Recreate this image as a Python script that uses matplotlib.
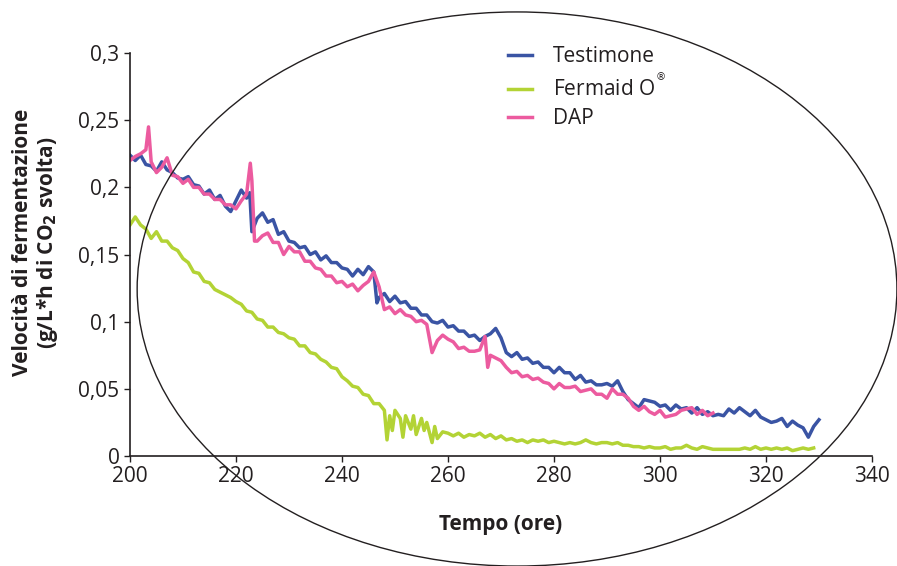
import matplotlib
matplotlib.use('Agg')
import matplotlib.pyplot as plt
from matplotlib.patches import Ellipse

plt.rcParams['font.family'] = ['Open Sans', 'DejaVu Sans']

# --- data ---
t_test = [200, 201, 202, 203, 204, 205, 206, 207, 208, 209, 210, 211, 212, 213, 214, 215, 216, 217, 218, 219,
          220, 221, 222, 222.6, 223, 224, 225, 226, 227, 228, 229, 230, 231, 232, 233, 234, 235, 236, 237, 238,
          239, 240, 241, 242, 243, 244, 245, 246, 246.6, 247, 248, 249, 250, 251, 252, 253, 254, 255, 256, 257,
          258, 259, 260, 261, 262, 263, 264, 265, 266, 267, 268, 269, 270, 271, 272, 273, 274, 275, 276, 277,
          278, 279, 280, 281, 282, 283, 284, 285, 286, 287, 288, 289, 290, 291, 292, 293, 294, 295, 296, 297,
          298, 299, 300, 301, 302, 303, 304, 305, 306, 307, 308, 309, 310, 311, 312, 313, 314, 315, 316, 317,
          318, 319, 320, 321, 322, 323, 324, 325, 326, 327, 328, 329, 330]
v_test = [0.224, 0.220, 0.224, 0.217, 0.216, 0.212, 0.219, 0.213, 0.211, 0.207, 0.206, 0.208, 0.202, 0.201,
          0.195, 0.198, 0.191, 0.194, 0.186, 0.182, 0.190, 0.198, 0.192, 0.196, 0.167, 0.177, 0.181, 0.174,
          0.176, 0.165, 0.167, 0.160, 0.159, 0.155, 0.156, 0.150, 0.152, 0.146, 0.149, 0.144, 0.144, 0.140,
          0.139, 0.134, 0.139, 0.135, 0.141, 0.137, 0.114, 0.118, 0.121, 0.115, 0.119, 0.114, 0.115, 0.110,
          0.110, 0.105, 0.105, 0.100, 0.099, 0.101, 0.096, 0.097, 0.093, 0.093, 0.089, 0.090, 0.086, 0.089,
          0.091, 0.095, 0.088, 0.077, 0.074, 0.077, 0.072, 0.073, 0.069, 0.070, 0.066, 0.066, 0.062, 0.066,
          0.062, 0.062, 0.057, 0.060, 0.055, 0.056, 0.053, 0.053, 0.054, 0.052, 0.056, 0.048, 0.042, 0.039,
          0.036, 0.042, 0.041, 0.040, 0.037, 0.038, 0.034, 0.038, 0.035, 0.036, 0.032, 0.036, 0.031, 0.033,
          0.030, 0.031, 0.030, 0.035, 0.032, 0.036, 0.033, 0.030, 0.034, 0.029, 0.027, 0.025, 0.026, 0.028,
          0.022, 0.026, 0.023, 0.021, 0.014, 0.022, 0.027]

t_ferm = [200, 201, 202, 203, 204, 205, 206, 207, 208, 209, 210, 211, 212, 213, 214, 215, 216, 217, 218, 219,
          220, 221, 222, 223, 224, 225, 226, 227, 228, 229, 230, 231, 232, 233, 234, 235, 236, 237, 238, 239,
          240, 241, 242, 243, 244, 245, 246, 247, 248, 248.5, 249, 249.5, 250, 251, 251.5, 252, 253, 253.5, 254,
          255, 255.5, 256, 257, 257.5, 258, 259, 260, 261, 262, 263, 264, 265, 266, 267, 268, 269, 270, 271,
          272, 273, 274, 275, 276, 277, 278, 279, 280, 281, 282, 283, 284, 285, 286, 287, 288, 289, 290, 291,
          292, 293, 294, 295, 296, 297, 298, 299, 300, 301, 302, 303, 304, 305, 306, 307, 308, 309, 310, 311,
          312, 313, 314, 315, 316, 317, 318, 319, 320, 321, 322, 323, 324, 325, 326, 327, 328, 329]
v_ferm = [0.172, 0.178, 0.172, 0.169, 0.162, 0.167, 0.160, 0.160, 0.155, 0.153, 0.147, 0.144, 0.137, 0.136,
          0.130, 0.129, 0.124, 0.122, 0.120, 0.118, 0.115, 0.113, 0.108, 0.107, 0.102, 0.101, 0.096, 0.096,
          0.092, 0.091, 0.088, 0.087, 0.082, 0.082, 0.077, 0.076, 0.072, 0.070, 0.066, 0.065, 0.059, 0.056,
          0.052, 0.051, 0.046, 0.045, 0.039, 0.039, 0.034, 0.012, 0.030, 0.019, 0.034, 0.028, 0.014, 0.030,
          0.020, 0.030, 0.016, 0.028, 0.019, 0.025, 0.010, 0.022, 0.013, 0.018, 0.017, 0.015, 0.017, 0.014,
          0.016, 0.015, 0.017, 0.014, 0.016, 0.013, 0.015, 0.012, 0.013, 0.011, 0.012, 0.010, 0.012, 0.011,
          0.012, 0.010, 0.011, 0.010, 0.009, 0.010, 0.009, 0.010, 0.012, 0.010, 0.009, 0.010, 0.010, 0.009,
          0.010, 0.008, 0.008, 0.007, 0.007, 0.006, 0.007, 0.006, 0.006, 0.007, 0.005, 0.006, 0.006, 0.008,
          0.006, 0.005, 0.007, 0.006, 0.005, 0.005, 0.005, 0.005, 0.005, 0.005, 0.006, 0.005, 0.007, 0.005,
          0.006, 0.005, 0.006, 0.005, 0.006, 0.004, 0.005, 0.006, 0.005, 0.006]

t_dap = [200, 201, 202, 203, 203.5, 204, 205, 206, 207, 208, 209, 210, 211, 212, 213, 214, 215, 216, 217, 218,
         219, 220, 221, 222, 222.7, 223, 223.5, 224, 225, 226, 227, 228, 229, 230, 231, 232, 233, 234, 235, 236,
         237, 238, 239, 240, 241, 242, 243, 244, 245, 246, 247, 248, 249, 250, 251, 252, 253, 254, 255, 256,
         257, 258, 259, 260, 261, 262, 263, 264, 265, 266, 267, 267.5, 268, 269, 270, 271, 272, 273, 274, 275,
         276, 277, 278, 279, 280, 281, 282, 283, 284, 285, 286, 287, 288, 289, 290, 291, 292, 293, 294, 295,
         296, 297, 298, 299, 300, 301, 302, 303, 304, 305, 306, 307, 308, 309, 310]
v_dap = [0.220, 0.223, 0.225, 0.228, 0.245, 0.219, 0.211, 0.215, 0.222, 0.209, 0.208, 0.203, 0.206, 0.200,
         0.200, 0.195, 0.195, 0.191, 0.191, 0.187, 0.187, 0.184, 0.190, 0.195, 0.218, 0.205, 0.160, 0.160,
         0.164, 0.166, 0.159, 0.159, 0.150, 0.156, 0.152, 0.152, 0.145, 0.145, 0.140, 0.139, 0.134, 0.134,
         0.129, 0.130, 0.126, 0.128, 0.123, 0.127, 0.130, 0.137, 0.126, 0.109, 0.111, 0.106, 0.109, 0.105,
         0.104, 0.100, 0.101, 0.098, 0.077, 0.086, 0.090, 0.087, 0.085, 0.080, 0.081, 0.078, 0.078, 0.079,
         0.089, 0.066, 0.075, 0.073, 0.071, 0.066, 0.062, 0.063, 0.059, 0.060, 0.057, 0.058, 0.055, 0.054,
         0.050, 0.054, 0.051, 0.051, 0.052, 0.048, 0.049, 0.050, 0.046, 0.046, 0.043, 0.050, 0.046, 0.046,
         0.043, 0.037, 0.034, 0.037, 0.033, 0.031, 0.034, 0.029, 0.030, 0.031, 0.034, 0.035, 0.036, 0.031,
         0.034, 0.030, 0.032]

x_ticks = [200, 220, 240, 260, 280, 300, 320, 340]
y_ticks = [0, 0.05, 0.1, 0.15, 0.2, 0.25, 0.3]
y_tick_labels = ['0', '0,05', '0,1', '0,15', '0,2', '0,25', '0,3']

fig = plt.figure(figsize=(8.97, 5.66), dpi=100)
ax = fig.add_axes([0.1449, 0.1943, 0.8272, 0.7120])

ax.plot(t_test, v_test, color='#3a54a4', lw=2.5, label='Testimone')
ax.plot(t_ferm, v_ferm, color='#b3d335', lw=2.5, label='Fermaid O$^{^{®}}$')
ax.plot(t_dap, v_dap, color='#ec5b9f', lw=2.5, label='DAP')

ax.set_xlim(200, 340)
ax.set_ylim(0, 0.3)
ax.set_xticks(x_ticks)
ax.set_yticks(y_ticks)
ax.set_yticklabels(y_tick_labels)
ax.tick_params(direction='out', length=4, width=1, labelsize=15, colors='#231f20')
ax.spines['top'].set_visible(False)
ax.spines['right'].set_visible(False)
for s in ['left', 'bottom']:
    ax.spines[s].set_color('#231f20')
    ax.spines[s].set_linewidth(1.2)

ax.set_xlabel('Tempo (ore)', fontsize=15, fontweight='bold', color='#231f20', labelpad=19)
fig.text(0.040, 0.571, 'Velocità di fermentazione\n(g/L*h di CO$_\\mathbf{2}$ svolta)',
         rotation=90, ha='center', va='center', fontsize=15, fontweight='bold',
         color='#231f20', multialignment='center', linespacing=1.1)

leg = ax.legend(loc='upper left', bbox_to_anchor=(0.5663, 0.919), bbox_transform=fig.transFigure,
                frameon=False, fontsize=15, handlelength=1.15, handletextpad=1.0,
                labelspacing=0.35, borderpad=0, borderaxespad=0)
for txt in leg.get_texts():
    txt.set_color('#231f20')

ell = Ellipse((0.5764, 0.4894), 0.847, 0.979, transform=fig.transFigure,
              fill=False, edgecolor='#231f20', lw=1.0)
fig.patches.append(ell)

fig.savefig('out.png', dpi=100)
